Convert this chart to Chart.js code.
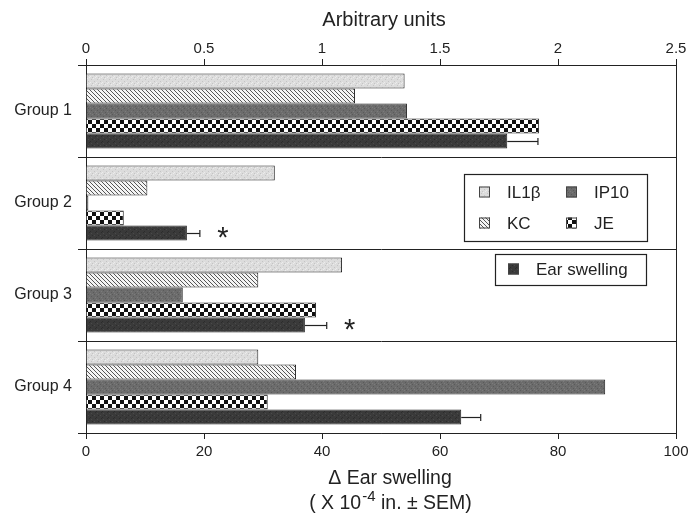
<!DOCTYPE html>
<html><head><meta charset="utf-8">
<script src="https://cdn.jsdelivr.net/npm/chart.js@4/dist/chart.umd.min.js"></script>
<style>html,body{margin:0;padding:0;background:#fff}#wrap{width:694px;height:514px}</style>
</head><body><div id="wrap"><canvas id="c" width="694" height="514"></canvas></div>
<script>
const groups = ['Group 1', 'Group 2', 'Group 3', 'Group 4'];
const il1b = [1.35, 0.80, 1.085, 0.73];
const kc = [1.14, 0.26, 0.73, 0.89];
const ip10 = [1.36, 0.01, 0.41, 2.20];
const je = [1.92, 0.16, 0.975, 0.77];
const earSwelling = [71.4, 17.1, 37.1, 63.6];
const earSem = [5.2, 2.2, 3.7, 3.3];
const significant = ['', '*', '*', ''];
const topTicks = ['0', '0.5', '1', '1.5', '2', '2.5'];
const bottomTicks = ['0', '20', '40', '60', '80', '100'];
const topTitle = 'Arbitrary units';
const bottomTitle1 = 'Δ Ear swelling';

const FONT = "'Liberation Sans', Arial, sans-serif";
const INK = '#222';
const canvas = document.getElementById('c');
const ctx = canvas.getContext('2d');

function makePattern(size, draw) {
  const c = document.createElement('canvas');
  c.width = size; c.height = size;
  const g = c.getContext('2d');
  draw(g, size);
  return ctx.createPattern(c, 'repeat');
}
function dots(g, pts, col) { g.fillStyle = col; pts.forEach(p => g.fillRect(p[0], p[1], 1, 1)); }
const pIL = makePattern(6, (g, s) => {
  g.fillStyle = '#dcdcdc'; g.fillRect(0, 0, s, s);
  dots(g, [[1, 1], [4, 3], [2, 5]], '#c4c4c4');
  dots(g, [[3, 0], [0, 4], [5, 5]], '#ececec');
});
const pKC = makePattern(4, (g, s) => {
  g.fillStyle = '#f4f4f4'; g.fillRect(0, 0, s, s);
  dots(g, [[0, 0], [1, 1], [2, 2], [3, 3]], '#555');
});
const pIP = makePattern(6, (g, s) => {
  g.fillStyle = '#6c6c6c'; g.fillRect(0, 0, s, s);
  dots(g, [[1, 2], [4, 0], [3, 4]], '#5a5a5a');
  dots(g, [[0, 5], [5, 3], [2, 0]], '#7c7c7c');
});
const pJE = makePattern(8, (g, s) => {
  g.fillStyle = '#fff'; g.fillRect(0, 0, s, s);
  g.fillStyle = '#111'; g.fillRect(0, 0, 4, 4); g.fillRect(4, 4, 4, 4);
});
const pEar = makePattern(6, (g, s) => {
  g.fillStyle = '#3a3a3a'; g.fillRect(0, 0, s, s);
  dots(g, [[2, 1], [5, 4], [0, 3]], '#2c2c2c');
  dots(g, [[4, 1], [1, 5]], '#4a4a4a');
});

const common = { borderColor: INK, borderWidth: 1, barPercentage: 1.0, categoryPercentage: 0.815, yAxisID: 'y' };
const datasets = [
  Object.assign({ label: 'IL1β', data: il1b, backgroundColor: pIL, xAxisID: 'xTop' }, common),
  Object.assign({ label: 'KC', data: kc, backgroundColor: pKC, xAxisID: 'xTop' }, common),
  Object.assign({ label: 'IP10', data: ip10, backgroundColor: pIP, xAxisID: 'xTop' }, common),
  Object.assign({ label: 'JE', data: je, backgroundColor: pJE, xAxisID: 'xTop' }, common),
  Object.assign({ label: 'Ear swelling', data: earSwelling, backgroundColor: pEar, xAxisID: 'xBottom' }, common)
];

const extras = {
  id: 'extras',
  afterDatasetsDraw(chart) {
    const c = chart.ctx, a = chart.chartArea;
    const xb = chart.scales.xBottom;
    const meta = chart.getDatasetMeta(4);
    c.save();
    // right frame
    c.strokeStyle = INK; c.lineWidth = 1;
    c.beginPath(); c.moveTo(Math.round(a.right) + 0.5, a.top - 6); c.lineTo(Math.round(a.right) + 0.5, a.bottom + 6); c.stroke();
    // error bars + asterisks
    meta.data.forEach((bar, i) => {
      const x0 = xb.getPixelForValue(earSwelling[i]);
      const x1 = xb.getPixelForValue(earSwelling[i] + earSem[i]);
      const y = Math.round(bar.y) + 0.5;
      c.strokeStyle = INK; c.lineWidth = 1.2;
      c.beginPath(); c.moveTo(x0, y); c.lineTo(x1, y); c.stroke();
      c.beginPath(); c.moveTo(x1, y - 3.5); c.lineTo(x1, y + 3.5); c.stroke();
      if (significant[i]) {
        c.fillStyle = INK; c.font = '29px ' + FONT; c.textAlign = 'center'; c.textBaseline = 'middle';
        c.fillText(significant[i], x1 + 23, y + 5);
      }
    });
    // legends
    const ds = chart.data.datasets;
    function box(x, y, w, h) {
      c.fillStyle = '#fff'; c.fillRect(x, y, w, h);
      c.strokeStyle = INK; c.lineWidth = 1.2; c.strokeRect(x + 0.5, y + 0.5, w, h);
    }
    function item(d, x, y) {
      c.fillStyle = d.backgroundColor; c.fillRect(x, y - 5.5, 11, 11);
      c.strokeStyle = '#444'; c.lineWidth = 1; c.strokeRect(x + 0.5, y - 5.5 + 0.5, 10, 10);
      c.fillStyle = INK; c.font = '17px ' + FONT; c.textAlign = 'left'; c.textBaseline = 'middle';
      c.fillText(d.label, x + 28, y + 1);
    }
    box(464, 174, 183, 67);
    item(ds[0], 479, 192); item(ds[2], 566, 192);
    item(ds[1], 479, 223); item(ds[3], 566, 223);
    box(495, 254, 151, 31);
    item(ds[4], 508, 269);
    // titles
    const cx = (a.left + a.right) / 2;
    c.fillStyle = INK; c.textAlign = 'center'; c.textBaseline = 'middle';
    c.font = '20px ' + FONT;
    c.fillText(topTitle, cx + 3, 20);
    c.font = '19.5px ' + FONT;
    c.fillText(bottomTitle1, cx + 9, 479);
    const p1 = '( X 10', sup = '-4', p2 = ' in. ± SEM)';
    c.font = '19.5px ' + FONT; const w1 = c.measureText(p1).width, w3 = c.measureText(p2).width;
    c.font = '15px ' + FONT; const w2 = c.measureText(sup).width;
    let x = cx + 9 - (w1 + w2 + w3) / 2;
    c.textAlign = 'left';
    c.font = '19.5px ' + FONT; c.fillText(p1, x, 504); x += w1;
    c.font = '15px ' + FONT; c.fillText(sup, x + 1, 497); x += w2 + 1;
    c.font = '19.5px ' + FONT; c.fillText(p2, x, 504);
    c.restore();
  }
};

new Chart(canvas, {
  type: 'bar',
  data: { labels: groups, datasets },
  options: {
    indexAxis: 'y', responsive: false, animation: false, devicePixelRatio: 1,
    layout: { padding: { left: 0, right: 18, top: 0, bottom: 0 } },
    plugins: { legend: { display: false }, tooltip: { enabled: false } },
    scales: {
      y: {
        type: 'category', position: 'left', offset: true,
        grid: { offset: true, drawOnChartArea: true, color: INK, lineWidth: 1, tickLength: 8 },
        border: { display: true, color: INK, width: 1 },
        ticks: { color: INK, font: { family: FONT, size: 16 }, padding: 6 },
        afterFit(s) { s.width = 86; }
      },
      xTop: {
        type: 'linear', position: 'top', min: 0, max: 2.5,
        grid: { drawOnChartArea: false, tickLength: 6, color: INK },
        border: { display: true, color: INK, width: 1 },
        ticks: { stepSize: 0.5, autoSkip: false, maxRotation: 0, color: INK, font: { family: FONT, size: 15 }, padding: 1,
                 callback: (v, i) => topTicks[i] },
        afterFit(s) { s.height = 65; }
      },
      xBottom: {
        type: 'linear', position: 'bottom', min: 0, max: 100,
        grid: { drawOnChartArea: false, tickLength: 6, color: INK },
        border: { display: true, color: INK, width: 1 },
        ticks: { stepSize: 20, autoSkip: false, maxRotation: 0, color: INK, font: { family: FONT, size: 15 }, padding: 4,
                 callback: (v, i) => bottomTicks[i] },
        afterFit(s) { s.height = 81; }
      }
    }
  },
  plugins: [extras]
});
</script>
</body></html>
